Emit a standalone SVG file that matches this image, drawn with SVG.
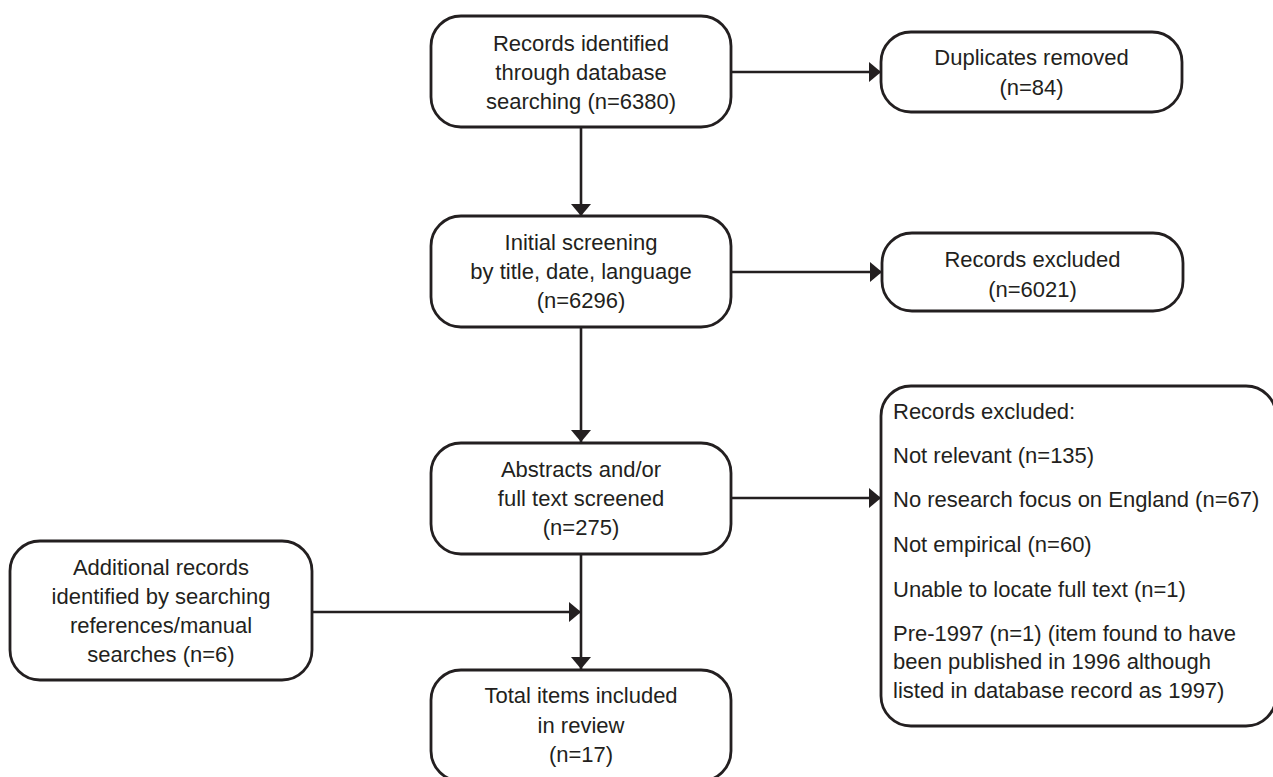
<svg xmlns="http://www.w3.org/2000/svg" width="1273" height="777" viewBox="0 0 1273 777">
<style>
.box{fill:#fff;stroke:#231f20;stroke-width:2.8}
.t{font-family:"Liberation Sans",Arial,sans-serif;font-size:22px;fill:#231f20}
.c{text-anchor:middle}
.edge{fill:none;stroke:#231f20;stroke-width:2.6}
</style>
<defs>
<marker id="ah" markerUnits="userSpaceOnUse" markerWidth="14" markerHeight="22" refX="12" refY="10" orient="auto">
<path d="M0,0 L12,10 L0,20 Z" fill="#231f20"/>
</marker>
</defs>
<rect width="1273" height="777" fill="#fff"/>
<g id="connectors">
<line class="edge" x1="731" y1="72" x2="881" y2="72" marker-end="url(#ah)"/>
<line class="edge" x1="581" y1="127" x2="581" y2="216" marker-end="url(#ah)"/>
<line class="edge" x1="731" y1="272" x2="882" y2="272" marker-end="url(#ah)"/>
<line class="edge" x1="581" y1="327" x2="581" y2="442" marker-end="url(#ah)"/>
<line class="edge" x1="731" y1="498" x2="881" y2="498" marker-end="url(#ah)"/>
<line class="edge" x1="581" y1="554" x2="581" y2="669" marker-end="url(#ah)"/>
<line class="edge" x1="312" y1="612" x2="581" y2="612" marker-end="url(#ah)"/>
</g>
<g id="n1">
<rect class="box" x="431" y="16" width="300" height="111" rx="30"/>
<text class="t c" x="581" y="51">Records identified</text>
<text class="t c" x="581" y="80">through database</text>
<text class="t c" x="581" y="109">searching (n=6380)</text>
</g>
<g id="n2">
<rect class="box" x="881" y="32" width="301" height="80" rx="30"/>
<text class="t c" x="1031.5" y="65">Duplicates removed</text>
<text class="t c" x="1031.5" y="95">(n=84)</text>
</g>
<g id="n3">
<rect class="box" x="431" y="216" width="300" height="111" rx="30"/>
<text class="t c" x="581" y="250">Initial screening</text>
<text class="t c" x="581" y="279">by title, date, language</text>
<text class="t c" x="581" y="308">(n=6296)</text>
</g>
<g id="n4">
<rect class="box" x="882" y="233" width="301" height="78" rx="30"/>
<text class="t c" x="1032.5" y="267">Records excluded</text>
<text class="t c" x="1032.5" y="297">(n=6021)</text>
</g>
<g id="n5">
<rect class="box" x="431" y="443" width="300" height="111" rx="30"/>
<text class="t c" x="581" y="477">Abstracts and/or</text>
<text class="t c" x="581" y="506">full text screened</text>
<text class="t c" x="581" y="535">(n=275)</text>
</g>
<g id="n6">
<rect class="box" x="881" y="386" width="395" height="340" rx="30"/>
<text class="t" x="893" y="419">Records excluded:</text>
<text class="t" x="893" y="463">Not relevant (n=135)</text>
<text class="t" x="893" y="507">No research focus on England (n=67)</text>
<text class="t" x="893" y="552">Not empirical (n=60)</text>
<text class="t" x="893" y="597">Unable to locate full text (n=1)</text>
<text class="t" x="893" y="641">Pre-1997 (n=1) (item found to have</text>
<text class="t" x="893" y="669">been published in 1996 although</text>
<text class="t" x="893" y="698">listed in database record as 1997)</text>
</g>
<g id="n7">
<rect class="box" x="10" y="541" width="302" height="139" rx="30"/>
<text class="t c" x="161" y="575">Additional records</text>
<text class="t c" x="161" y="604">identified by searching</text>
<text class="t c" x="161" y="633">references/manual</text>
<text class="t c" x="161" y="662">searches (n=6)</text>
</g>
<g id="n8">
<rect class="box" x="431" y="670" width="300" height="111" rx="30"/>
<text class="t c" x="581" y="703">Total items included</text>
<text class="t c" x="581" y="733">in review</text>
<text class="t c" x="581" y="762">(n=17)</text>
</g>
</svg>
